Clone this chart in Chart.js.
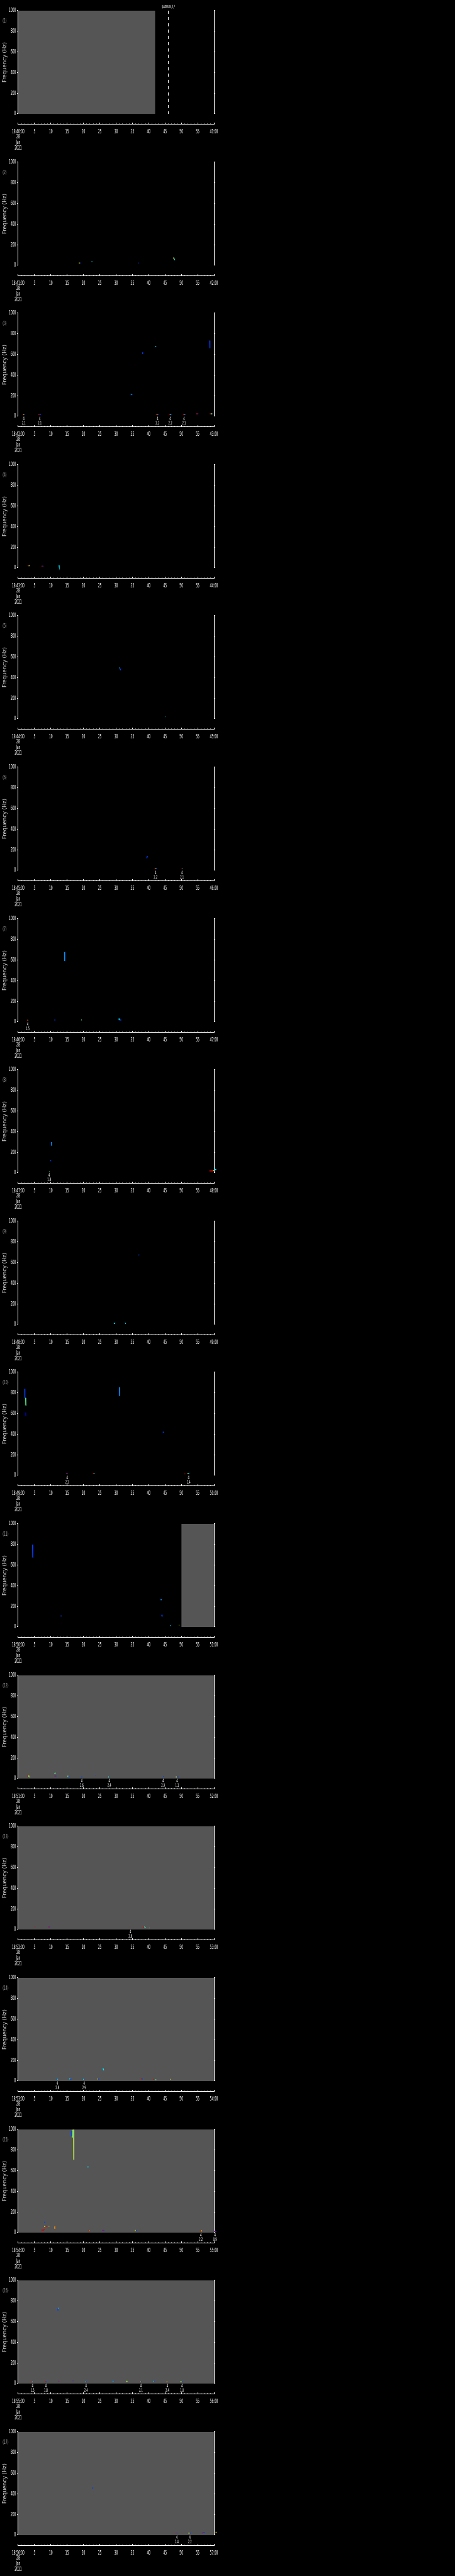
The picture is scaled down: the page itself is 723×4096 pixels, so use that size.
<!DOCTYPE html>
<html><head><meta charset="utf-8">
<script src="https://cdn.jsdelivr.net/npm/chart.js@4.4.1/dist/chart.umd.min.js"></script>
<style>
html,body{margin:0;padding:0;background:#000;}
body{width:723px;height:4096px;position:relative;overflow:hidden;}
#wrap{position:absolute;left:0;top:0;width:723px;height:4096px;}
canvas{position:absolute;left:0;}
</style></head><body><div id="wrap"></div>
<script>
// ---------------- DATA ----------------
const startMinutes = [40,41,42,43,44,45,46,47,48,49,50,51,52,53,54,55,56];
const dateLines = ['28','Jan','2021'];
const yMajorTicks = [0,200,400,600,800,1000];
const yMinorTicks = [0,50,100,150,200,250,300,350,400,450,500,550,600,650,700,750,800,850,900,950,1000];
const xMajorTicks = [0,5,10,15,20,25,30,35,40,45,50,55,60];
const xMinorTicks = [0,1,2,3,4,5,6,7,8,9,10,11,12,13,14,15,16,17,18,19,20,21,22,23,24,25,26,27,28,29,30,31,32,33,34,35,36,37,38,39,40,41,42,43,44,45,46,47,48,49,50,51,52,53,54,55,56,57,58,59,60];
// [panel, start s, end s] of grey (no data) intervals
const grayRegions = [[1,0,42],[11,50,60],[12,0,60],[13,0,60],[14,0,60],[15,0,60],[16,0,60],[17,0,60]];
// [panel, time s, label]
const dashedMarkers = [[1,46,'$ADRUN,3,*']];
const palette = {r:'#e00000',o:'#ff9000',y:'#ffff00',l:'#c8ff40',g:'#60ff90',c:'#00e8ff',a:'#0090ff',b:'#0040ff',n:'#0000c0'};
// marks: [t0 s, t1 s, f0 Hz, f1 Hz, colour key]
const marksP1 = [];
const marksP2 = [[18.6,18.85,23,23,'y'],[18.85,19.1,23,23,'b'],[22.5,22.7,36,36,'c'],[36.7,36.85,23,23,'c'],[36.85,37.0,23,23,'b'],[47.6,47.8,76,62,'y'],[47.8,48.0,62,51,'c']];
const marksP3 = [[1.4,1.6,20,20,'r'],[1.6,1.8,20,20,'y'],[1.8,2.0,20,20,'b'],[6.2,6.5,20,20,'r'],[6.5,7.0,20,20,'b'],[34.5,34.7,213,213,'c'],[34.7,35.0,210,210,'b'],[38.1,38.15,620,605,'b'],[42.0,42.3,675,675,'c'],[42.2,42.5,20,20,'r'],[42.5,42.7,20,20,'y'],[42.7,43.0,20,20,'b'],[46.2,46.5,20,20,'r'],[46.5,46.7,20,20,'g'],[46.7,47.0,20,20,'b'],[50.5,50.8,20,20,'r'],[50.8,51.0,20,20,'y'],[51.0,51.3,20,20,'b'],[54.6,54.9,24,24,'r'],[54.9,55.2,24,24,'b'],[58.7,58.75,735,660,'b'],[58.7,59.0,24,24,'r'],[59.0,59.2,24,24,'y'],[59.2,59.5,24,24,'c']];
const marksP4 = [[2.9,3.2,21,21,'r'],[3.2,3.4,21,21,'y'],[3.4,3.6,21,21,'c'],[7.2,7.45,17,17,'r'],[7.45,7.7,17,17,'b'],[12.5,12.55,24,17,'c']];
const marksP5 = [[31.0,31.2,494,494,'c'],[31.2,31.4,488,470,'b'],[45.0,45.1,21,21,'r'],[45.1,45.2,21,21,'c']];
const marksP6 = [[39.4,39.6,118,140,'b'],[41.8,42.1,20,20,'r'],[42.1,42.3,20,20,'g'],[42.3,42.5,20,20,'b'],[50.1,50.25,17,17,'r'],[50.25,50.4,17,17,'c']];
const marksP7 = [[2.7,2.85,17,17,'r'],[2.85,3.0,17,17,'y'],[11.1,11.4,19,19,'b'],[14.2,14.25,678,591,'a'],[19.3,19.45,19,19,'g'],[30.9,30.95,34,19,'c'],[30.95,31.6,19,19,'b']];
const marksP8 = [[10.2,10.25,298,264,'a'],[10.25,10.4,264,264,'c'],[9.8,10.1,118,118,'b'],[9.3,9.45,11,11,'y'],[9.45,9.6,11,11,'g'],[58.6,59.7,19,19,'r'],[59.7,60.0,21,25,'y'],[60.0,60.7,32,32,'c']];
const marksP9 = [[36.9,37.1,677,670,'b'],[29.3,29.7,11,11,'c'],[32.8,33.0,11,11,'c']];
const marksP10 = [[2.0,2.05,839,746,'b'],[2.2,2.35,750,750,'g'],[2.3,2.35,750,680,'g'],[2.3,2.45,680,680,'g'],[2.3,2.35,609,574,'n'],[31.0,31.05,854,770,'a'],[31.05,31.15,770,770,'b'],[44.3,44.7,419,419,'b'],[14.7,14.9,19,19,'r'],[14.9,15.0,19,19,'y'],[15.0,15.2,19,19,'b'],[22.9,23.1,19,19,'r'],[23.1,23.2,19,19,'g'],[23.2,23.4,19,19,'c'],[51.0,51.2,15,15,'r'],[51.9,52.1,19,19,'y'],[52.1,52.4,19,19,'c']];
const marksP11 = [[4.4,4.45,798,674,'b'],[4.45,4.55,674,674,'b'],[13.0,13.3,107,107,'b'],[43.6,44.0,264,264,'a'],[44.0,44.1,118,101,'b'],[46.6,46.8,13,13,'c'],[49.3,49.4,17,17,'y'],[49.4,49.5,17,17,'r']];
const marksP12 = [[2.8,3.1,24,24,'r'],[3.1,3.4,24,24,'y'],[3.4,3.7,15,15,'c'],[11.1,11.5,50,54,'g'],[11.1,11.35,24,24,'r'],[11.35,11.7,24,24,'b'],[15.1,15.35,22,22,'g'],[15.35,15.7,19,19,'b'],[19.3,19.7,15,15,'b'],[23.7,23.9,32,32,'b'],[27.6,27.8,15,15,'g'],[27.8,28.0,15,15,'b'],[44.4,44.7,20,20,'b'],[48.3,48.6,15,15,'y'],[48.6,49.2,15,15,'b']];
const marksP13 = [[5.1,5.25,24,24,'r'],[5.25,5.4,24,24,'b'],[9.2,9.5,24,24,'r'],[9.5,9.8,24,24,'b'],[21.7,21.8,647,647,'y'],[34.2,34.35,15,15,'r'],[34.35,34.5,15,15,'c'],[38.3,38.6,22,22,'r'],[38.6,38.85,24,24,'c'],[38.85,39.1,19,19,'o'],[39.9,40.05,15,15,'r'],[40.05,40.2,15,15,'c']];
const marksP14 = [[11.8,12.0,17,17,'b'],[12.0,12.2,17,17,'c'],[15.7,15.9,24,17,'c'],[15.9,16.3,17,17,'b'],[19.9,20.1,17,17,'c'],[20.1,20.3,17,17,'b'],[24.3,24.5,19,19,'y'],[24.5,24.8,19,19,'b'],[26.0,26.2,123,103,'c'],[37.6,37.9,21,21,'r'],[37.9,38.2,19,19,'b'],[41.3,41.5,17,17,'r'],[42.1,42.3,13,13,'g'],[46.5,46.7,17,17,'g'],[46.7,46.9,17,17,'r']];
const marksP15 = [[16.3,16.35,987,936,'b'],[16.6,16.65,996,921,'g'],[16.7,16.8,1000,1000,'r'],[17.0,17.05,1000,707,'l'],[21.3,21.5,641,632,'c'],[7.1,7.9,24,24,'r'],[7.9,8.0,24,36,'r'],[8.0,8.2,105,95,'b'],[8.0,8.3,60,60,'y'],[8.4,8.8,60,60,'r'],[9.4,9.5,60,60,'y'],[9.5,9.6,60,60,'b'],[11.1,11.2,41,60,'o'],[11.2,11.3,60,60,'o'],[21.5,21.7,21,21,'r'],[21.7,21.85,19,19,'y'],[21.85,22.0,17,17,'b'],[25.7,26.0,21,21,'r'],[26.0,26.4,21,21,'b'],[35.8,36.0,21,21,'y'],[36.0,36.3,21,21,'b'],[55.7,56.0,17,17,'r'],[56.0,56.3,17,17,'y'],[60.0,60.3,11,11,'r'],[60.3,60.7,11,11,'b']];
const marksP16 = [[12.1,12.15,710,729,'b'],[12.15,12.4,729,729,'c'],[4.0,4.2,17,17,'r'],[4.2,4.35,17,17,'y'],[4.35,4.6,17,17,'b'],[8.2,8.45,17,17,'r'],[8.45,8.7,17,17,'b'],[12.3,12.45,23,23,'r'],[12.45,12.6,21,21,'b'],[16.5,16.65,26,26,'r'],[16.65,16.75,26,26,'y'],[16.75,16.9,26,26,'b'],[20.6,20.8,17,17,'c'],[20.8,21.0,17,17,'b'],[29.0,29.2,21,21,'c'],[29.2,29.4,21,21,'b'],[33.1,33.3,21,21,'y'],[33.3,33.5,21,21,'g'],[37.2,37.4,17,17,'r'],[37.4,37.55,17,17,'y'],[37.55,37.8,17,17,'b'],[41.4,41.6,21,21,'c'],[41.6,41.8,21,21,'b'],[45.5,45.65,17,17,'y'],[45.65,45.75,17,17,'r'],[45.75,45.9,17,17,'b'],[49.7,49.95,17,17,'y'],[49.95,50.1,17,17,'g'],[50.1,50.4,17,17,'b']];
const marksP17 = [[22.6,23.0,456,456,'b'],[48.3,48.5,19,19,'r'],[48.5,48.6,19,19,'y'],[48.6,48.8,19,19,'b'],[52.2,52.5,19,19,'y'],[52.5,52.9,19,19,'b'],[56.3,56.6,21,21,'r'],[56.6,57.2,27,24,'b'],[60.5,60.8,27,27,'y']];
const panelMarks = [marksP1,marksP2,marksP3,marksP4,marksP5,marksP6,marksP7,marksP8,marksP9,marksP10,marksP11,marksP12,marksP13,marksP14,marksP15,marksP16,marksP17];
// event annotations: [panel, time s, line1, line2]
const eventLabels = [
 [3,1.7,'4','2.1'],[3,6.6,'4','2.1'],[3,42.7,'4','2.2'],[3,46.6,'4','2.2'],[3,50.8,'4','2.1'],
 [6,42.1,'4','2.2'],[6,50.2,'4','2.1'],
 [7,2.9,'4','1.5'],
 [8,9.5,'4','1.8'],
 [10,15.0,'4','2.2'],[10,52.2,'4','2.4'],
 [12,19.5,'4','2.6'],[12,27.9,'4','2.4'],[12,44.4,'4','2.9'],[12,48.7,'4','1.1'],
 [13,34.4,'4','2.8'],
 [14,12.0,'4','2.8'],[14,20.2,'4','2.9'],
 [15,56.0,'4','2.2'],[15,60.3,'4','0.9'],
 [16,4.4,'4','1.5'],[16,8.5,'4','1.8'],[16,20.8,'4','2.4'],[16,37.6,'4','2.1'],[16,45.7,'4','2.4'],[16,50.2,'4','1.0'],
 [17,48.6,'4','2.4'],[17,52.6,'4','2.2']
];

// ---------------- LAYOUT ----------------
const S = 0.705;
const L = {panelH:341.29, plotTop:24, plotBottom:256.7, plotLeft:41, plotRight:482.3, axisY:280.7, canvasW:723, canvasH:242};
const FONT = "'Liberation Sans Narrow','DejaVu Sans Condensed','Liberation Sans',sans-serif";
const RIGHT_W = 10;
const plotHpx = (L.plotBottom - L.plotTop) * S;
const axisOffsetPx = (L.axisY - L.plotBottom) * S;
const AXIS_VALUE = -axisOffsetPx / plotHpx * 1000;
const TICK_SIZE = 9;

// narrow lettering like the reference's stroke font
const mctx = document.createElement('canvas').getContext('2d');
mctx.font = TICK_SIZE + 'px ' + FONT;
const KX = Math.min(1, 11.3 / mctx.measureText('1000').width);
const origFill = CanvasRenderingContext2D.prototype.fillText;
CanvasRenderingContext2D.prototype.fillText = function(text, x, y, maxWidth) {
  if (this.font.indexOf('Liberation') < 0 || KX >= 1) return origFill.apply(this, arguments);
  this.save();
  this.translate(x, y);
  this.scale(KX, 1);
  if (maxWidth === undefined) origFill.call(this, text, 0, 0); else origFill.call(this, text, 0, 0, maxWidth / KX);
  this.restore();
};

function textPlugin(n) {
  return {
    id: 'panelText' + n,
    afterDraw(chart) {
      const {ctx, chartArea, scales} = chart;
      ctx.save();
      ctx.textBaseline = 'middle';
      ctx.fillStyle = '#a0a0a0';
      ctx.font = '9.2px ' + FONT;
      ctx.textAlign = 'left';
      ctx.fillText('(' + n + ')', 4.2, chartArea.top + 23.7 * S);
      ctx.fillStyle = '#ffffff';
      ctx.font = '7.5px ' + FONT;
      ctx.textAlign = 'center';
      eventLabels.filter(e => e[0] === n).forEach(e => {
        const x = scales.x.getPixelForValue(e[1]);
        ctx.fillText(e[2], x, chartArea.bottom + 6.1 * S);
        ctx.fillText(e[3], x, chartArea.bottom + 15.7 * S);
      });
      ctx.font = '7px ' + FONT;
      dashedMarkers.filter(m => m[0] === n).forEach(m => {
        const x = scales.x.getPixelForValue(m[1]);
        ctx.fillText(m[2], x, chartArea.top - 8.3 * S);
      });
      ctx.restore();
    }
  };
}

function tickSetter(list) {
  return function(scale) { scale.ticks = list.map(v => ({value: v})); };
}

const wrap = document.getElementById('wrap');

function buildPanel(i) {
  const n = i + 1;
  const mm = startMinutes[i];
  const canvas = document.createElement('canvas');
  canvas.width = L.canvasW; canvas.height = L.canvasH;
  canvas.style.width = L.canvasW + 'px'; canvas.style.height = L.canvasH + 'px';
  canvas.style.top = Math.round(i * L.panelH * S) + 'px';
  wrap.appendChild(canvas);

  const datasets = [];
  grayRegions.filter(g => g[0] === n).forEach(g => {
    datasets.push({data:[{x:g[1],y:1000},{x:g[2],y:1000}], xAxisID:'x', yAxisID:'y', fill:'origin',
      backgroundColor:'#555555', borderWidth:0, pointRadius:0, order:10});
  });
  dashedMarkers.filter(m => m[0] === n).forEach(m => {
    datasets.push({data:[{x:m[1],y:1000},{x:m[1],y:0}], xAxisID:'x', yAxisID:'y', fill:false,
      borderColor:'#ffffff', borderWidth:1, borderDash:[5,5], pointRadius:0, order:5});
  });
  panelMarks[i].forEach(mk => {
    datasets.push({data:[{x:mk[0],y:mk[2]},{x:mk[1],y:mk[3]}], xAxisID:'x', yAxisID:'y', fill:false,
      borderColor:palette[mk[4]], borderWidth:1.5, pointRadius:0, tension:0, clip:false, order:1});
  });

  const tickFont = {family: FONT, size: TICK_SIZE, lineHeight: 0.95};
  const hh = String(mm).padStart(2,'0');
  new Chart(canvas, {
    type: 'line',
    data: {datasets},
    options: {
      responsive:false, animation:false, events:[], devicePixelRatio:1,
      layout:{padding:{left:0, right:L.canvasW - L.plotRight*S - RIGHT_W, top:L.plotTop*S, bottom:L.canvasH - L.plotBottom*S}},
      plugins:{legend:{display:false}, tooltip:{enabled:false}},
      scales:{
        x:{type:'linear', axis:'x', position:{y:AXIS_VALUE}, min:0, max:60,
           afterBuildTicks: tickSetter(xMajorTicks),
           ticks:{autoSkip:false, maxRotation:0, minRotation:0, color:'#ffffff', font:tickFont, padding:10.4,
             callback:(v) => v === 0 ? ['18:' + hh + ':00'].concat(dateLines) : (v === 60 ? String(mm + 1).padStart(2,'0') + ':00' : String(v))},
           grid:{drawOnChartArea:false, drawTicks:true, tickLength:-3, color:'#ffffff', tickColor:'#ffffff', tickWidth:1},
           border:{display:true, color:'#ffffff', width:1}},
        xm:{type:'linear', axis:'x', position:{y:AXIS_VALUE}, min:0, max:60,
           afterBuildTicks: tickSetter(xMinorTicks),
           ticks:{display:false},
           grid:{drawOnChartArea:false, drawTicks:true, tickLength:-1.5, color:'#ffffff', tickColor:'#ffffff', tickWidth:1},
           border:{display:false}},
        y:{type:'linear', axis:'y', position:'left', min:0, max:1000,
           afterBuildTicks: tickSetter(yMajorTicks),
           afterFit:(s) => { s.width = L.plotLeft * S; },
           ticks:{color:'#ffffff', font:{family: FONT, size: TICK_SIZE}, padding:1.5, callback:(v) => String(v)},
           title:{display:true, text:'Frequency (Hz)', color:'#d0d0d0', font:{family:"'DejaVu Sans',sans-serif", size:8.5, lineHeight:1.2}, padding:{top:3.1, bottom:0}},
           grid:{drawOnChartArea:false, drawTicks:true, tickLength:2, color:'#ffffff', tickColor:'#ffffff'},
           border:{display:true, color:'#ffffff', width:1}},
        ym:{type:'linear', axis:'y', position:{x:0}, min:0, max:1000,
           afterBuildTicks: tickSetter(yMinorTicks),
           ticks:{display:false},
           grid:{drawOnChartArea:false, drawTicks:true, tickLength:1, color:'#ffffff', tickColor:'#ffffff'},
           border:{display:false}},
        yr:{type:'linear', axis:'y', position:'right', min:0, max:1000,
           afterBuildTicks: tickSetter(yMajorTicks),
           afterFit:(s) => { s.width = RIGHT_W; },
           ticks:{display:false},
           grid:{drawOnChartArea:false, drawTicks:true, tickLength:2, color:'#ffffff', tickColor:'#ffffff'},
           border:{display:true, color:'#ffffff', width:1}},
        yrm:{type:'linear', axis:'y', position:{x:60}, min:0, max:1000,
           afterBuildTicks: tickSetter(yMinorTicks),
           ticks:{display:false},
           grid:{drawOnChartArea:false, drawTicks:true, tickLength:-1, color:'#ffffff', tickColor:'#ffffff'},
           border:{display:false}}
      }
    },
    plugins:[textPlugin(n)]
  });
}

for (let i = 0; i < startMinutes.length; i++) buildPanel(i);
</script>
</body></html>
